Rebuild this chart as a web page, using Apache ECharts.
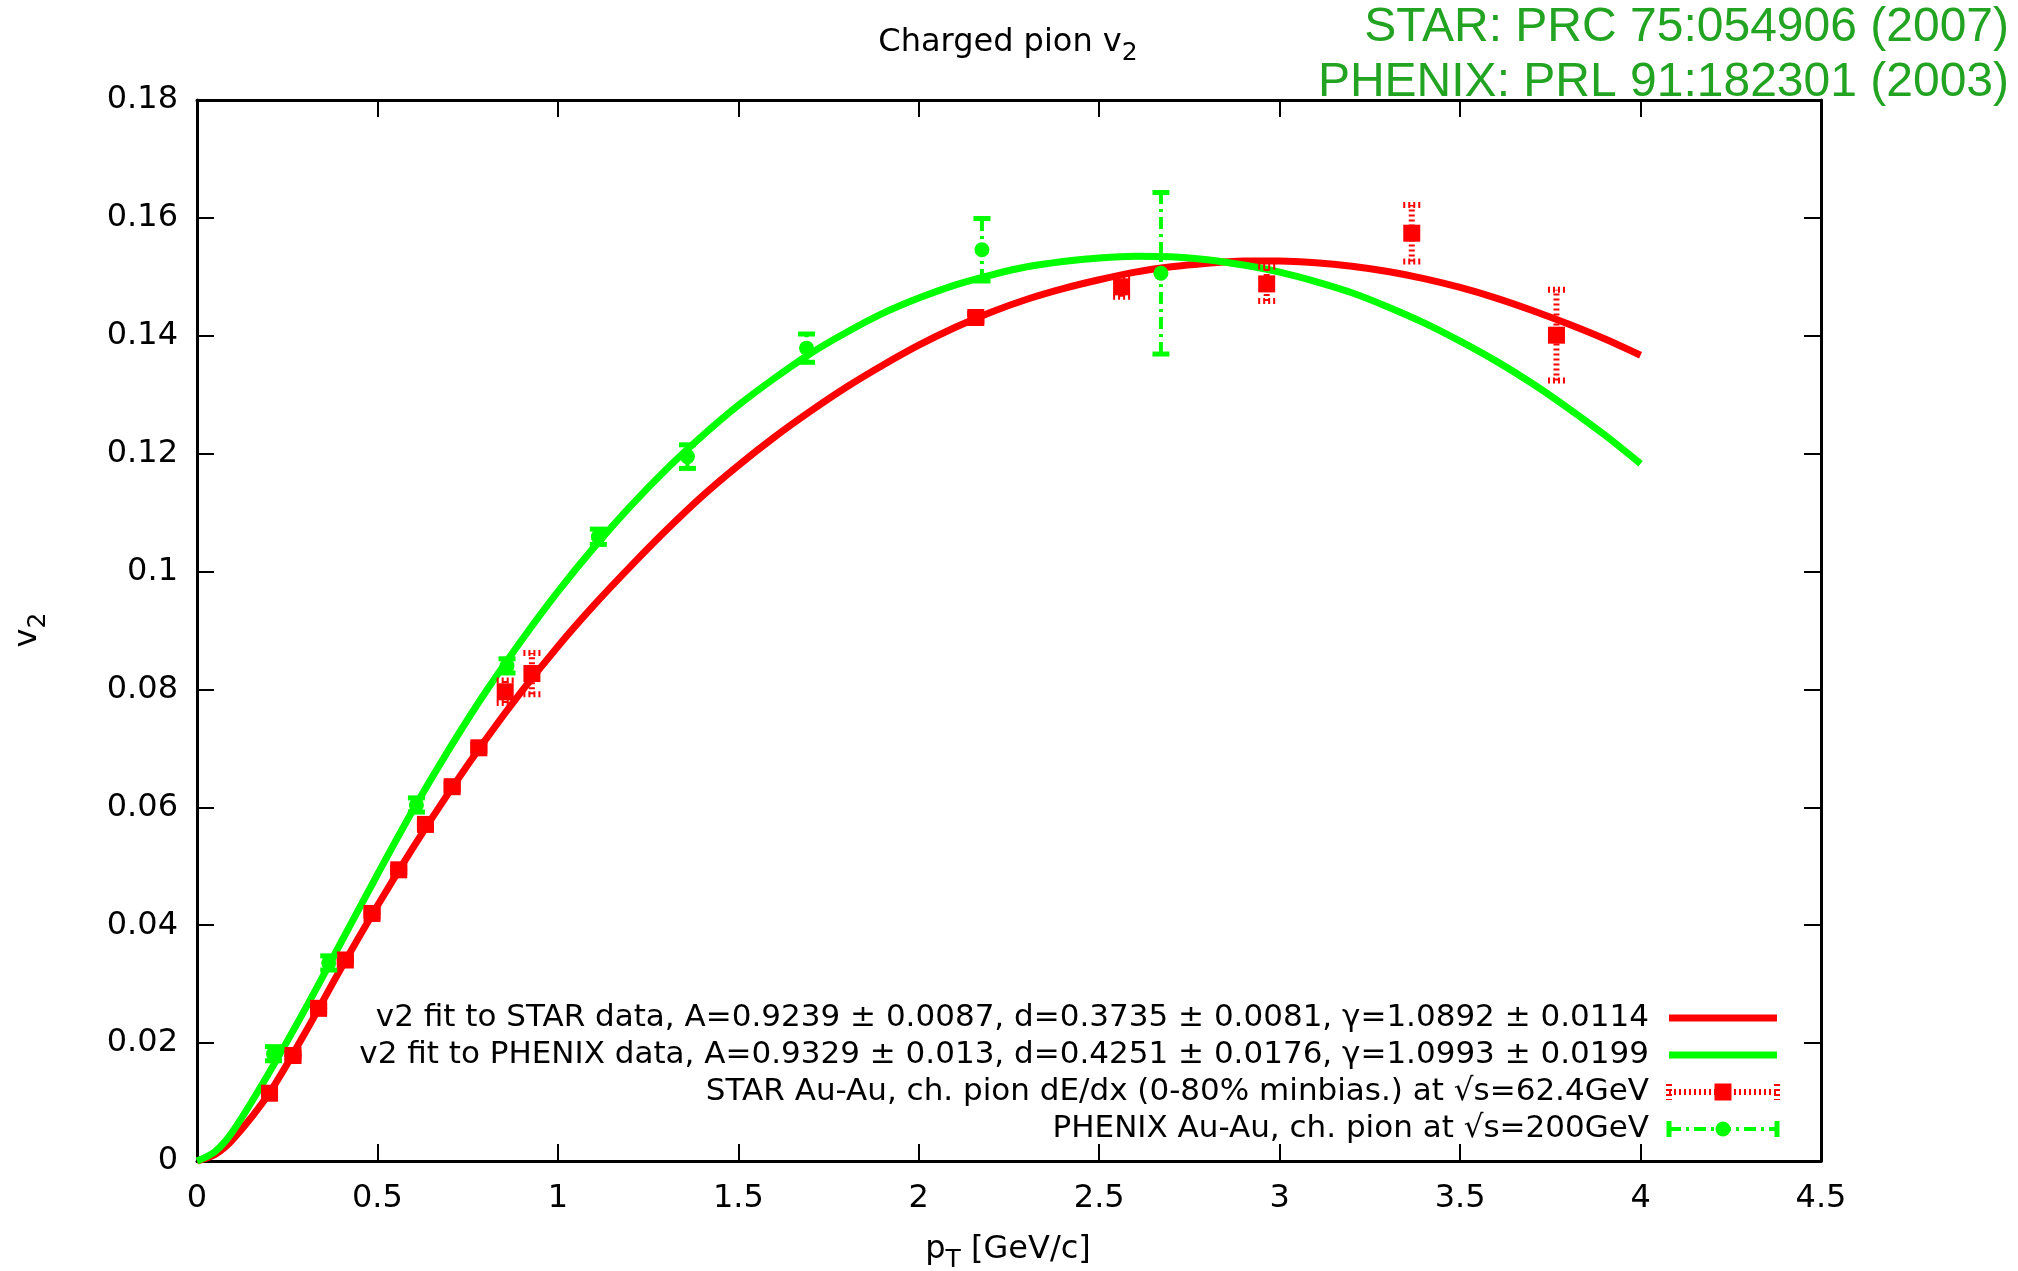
<!DOCTYPE html>
<html><head><meta charset="utf-8">
<script src="https://cdn.jsdelivr.net/npm/echarts@6/dist/echarts.min.js"></script>
<style>html,body{margin:0;padding:0;background:#fff}#c{width:2018px;height:1271px}</style>
</head><body><div id="c"></div><script>
// ---- data ----
const starPt  = [0.201, 0.266, 0.337, 0.411, 0.485, 0.559, 0.633, 0.707, 0.781, 0.854, 0.928, 2.158, 2.562, 2.964, 3.366, 3.767];
const starV2  = [0.0115, 0.0179, 0.0259, 0.0341, 0.0420, 0.0494, 0.0571, 0.0635, 0.0701, 0.0796, 0.0827, 0.1431, 0.1483, 0.1488, 0.1574, 0.1401];
const starErr = [0.0004, 0.0004, 0.0004, 0.0004, 0.0004, 0.0004, 0.0004, 0.0005, 0.0005, 0.0019, 0.0035, 0.0006, 0.0017, 0.0029, 0.0048, 0.0077];

const phxPt  = [0.212, 0.365, 0.608, 0.859, 1.112, 1.359, 1.689, 2.175, 2.671];
const phxV2  = [0.0182, 0.0336, 0.0604, 0.0840, 0.1059, 0.1195, 0.1379, 0.1546, 0.1506];
const phxErr = [0.0012, 0.0012, 0.0012, 0.0012, 0.0013, 0.0020, 0.0024, 0.0053, 0.0137];

// fit curves (about every 0.1 GeV/c)
const fitPt   = [0, 0.05, 0.1, 0.2, 0.3, 0.4, 0.5, 0.6, 0.7, 0.8, 0.9, 1.0, 1.1, 1.2, 1.3, 1.4, 1.5, 1.6, 1.7, 1.8, 1.9, 2.0,
                 2.1, 2.2, 2.3, 2.4, 2.5, 2.6, 2.7, 2.8, 2.9, 3.0, 3.1, 3.2, 3.3, 3.4, 3.5, 3.6, 3.7, 3.8, 3.9, 4.0];
const starFit = [0, 0.0011, 0.0037, 0.0115, 0.0218, 0.0328, 0.0433, 0.0533, 0.0627, 0.0715, 0.0797, 0.0873, 0.0943, 0.1008, 0.1070, 0.1128, 0.1180, 0.1228, 0.1272, 0.1313, 0.1350, 0.1384,
                 0.1414, 0.1440, 0.1462, 0.1480, 0.1495, 0.1508, 0.1517, 0.1523, 0.1527, 0.1527, 0.1524, 0.1518, 0.1509, 0.1497, 0.1482, 0.1464, 0.1443, 0.1420, 0.1395, 0.1367];
const phxFit  = [0, 0.0016, 0.0051, 0.0150, 0.0258, 0.0372, 0.0486, 0.0597, 0.0700, 0.0796, 0.0884, 0.0966, 0.1041, 0.1110, 0.1173, 0.1230, 0.1282, 0.1328, 0.1370, 0.1406, 0.1438, 0.1464,
                 0.1486, 0.1503, 0.1517, 0.1526, 0.1532, 0.1535, 0.1534, 0.1529, 0.1520, 0.1508, 0.1492, 0.1473, 0.1449, 0.1422, 0.1391, 0.1357, 0.1319, 0.1277, 0.1232, 0.1183];

const legendLabels = [
  'v2 fit to STAR data, A=0.9239 \u00b1 0.0087, d=0.3735 \u00b1 0.0081, \u03b3=1.0892 \u00b1 0.0114',
  'v2 fit to PHENIX data, A=0.9329 \u00b1 0.013, d=0.4251 \u00b1 0.0176, \u03b3=1.0993 \u00b1 0.0199',
  'STAR Au-Au, ch. pion dE/dx (0-80% minbias.) at \u221as=62.4GeV',
  'PHENIX Au-Au, ch. pion at \u221as=200GeV'
];
const refLines = ['STAR: PRC 75:054906 (2007)', 'PHENIX: PRL 91:182301 (2003)'];

// ---- styling ----
const FONT = 'DejaVu Sans';
const RED = '#ff0000', GREEN = '#00ff00', DKGREEN = '#22a322';

const chart = echarts.init(document.getElementById('c'), null, {renderer: 'canvas'});

function zip2(a, b) { return a.map((v, i) => [v, b[i]]); }
function errData(x, y, e) { return x.map((v, i) => [v, y[i] - e[i], y[i] + e[i]]); }

function errRender(color, lw, dash, capLw, capDash) {
  return function (params, api) {
    const x = api.value(0), lo = api.value(1), hi = api.value(2);
    const a = api.coord([x, lo]), b = api.coord([x, hi]);
    const hw = 8.5;
    return {type: 'group', children: [
      {type: 'line', shape: {x1: a[0], y1: a[1], x2: b[0], y2: b[1]}, style: {stroke: color, lineWidth: lw, lineDash: dash}},
      {type: 'line', shape: {x1: a[0] - hw, y1: a[1], x2: a[0] + hw, y2: a[1]}, style: {stroke: color, lineWidth: capLw, lineDash: capDash}},
      {type: 'line', shape: {x1: b[0] - hw, y1: b[1], x2: b[0] + hw, y2: b[1]}, style: {stroke: color, lineWidth: capLw, lineDash: capDash}}
    ]};
  };
}

const axisCommon = {
  axisLine: {show: true, onZero: false, lineStyle: {color: '#000', width: 3}},
  axisTick: {show: true, inside: true, length: 17, lineStyle: {color: '#000', width: 2}},
  splitLine: {show: false}
};

// legend graphics
const LX = 1649, SX0 = 1669, SX1 = 1777, LY0 = 1018, LDY = 37;
const legendGraphics = [];
legendLabels.forEach((t, i) => {
  legendGraphics.push({type: 'text', x: LX, y: LY0 + i * LDY, style: {text: t, font: '31px "' + FONT + '"', fill: '#000', align: 'right', verticalAlign: 'middle'}});
});
legendGraphics.push({type: 'line', shape: {x1: SX0, y1: LY0, x2: SX1, y2: LY0}, style: {stroke: RED, lineWidth: 7}});
legendGraphics.push({type: 'line', shape: {x1: SX0, y1: LY0 + LDY, x2: SX1, y2: LY0 + LDY}, style: {stroke: GREEN, lineWidth: 7}});
const y3 = LY0 + 2 * LDY, y4 = LY0 + 3 * LDY, mx = (SX0 + SX1) / 2;
legendGraphics.push({type: 'line', shape: {x1: SX0, y1: y3, x2: SX1, y2: y3}, style: {stroke: RED, lineWidth: 6, lineDash: [2, 3]}});
legendGraphics.push({type: 'line', shape: {x1: SX0, y1: y3 - 8, x2: SX0, y2: y3 + 8}, style: {stroke: RED, lineWidth: 6, lineDash: [2, 3]}});
legendGraphics.push({type: 'line', shape: {x1: SX1, y1: y3 - 8, x2: SX1, y2: y3 + 8}, style: {stroke: RED, lineWidth: 6, lineDash: [2, 3]}});
legendGraphics.push({type: 'rect', shape: {x: mx - 8.5, y: y3 - 8.5, width: 17, height: 17}, style: {fill: RED}});
legendGraphics.push({type: 'line', shape: {x1: SX0, y1: y4, x2: SX1, y2: y4}, style: {stroke: GREEN, lineWidth: 4, lineDash: [12, 5, 3, 5]}});
legendGraphics.push({type: 'line', shape: {x1: SX0, y1: y4 - 8, x2: SX0, y2: y4 + 8}, style: {stroke: GREEN, lineWidth: 5}});
legendGraphics.push({type: 'line', shape: {x1: SX1, y1: y4 - 8, x2: SX1, y2: y4 + 8}, style: {stroke: GREEN, lineWidth: 5}});
legendGraphics.push({type: 'circle', shape: {cx: mx, cy: y4, r: 7.5}, style: {fill: GREEN}});

const richMain = {m: {fontFamily: FONT, fontSize: 32, lineHeight: 46, verticalAlign: 'middle', color: '#000'},
                  s: {fontFamily: FONT, fontSize: 25, lineHeight: 22, verticalAlign: 'bottom', color: '#000'}};

const option = {
  backgroundColor: '#fff',
  animation: false,
  textStyle: {fontFamily: FONT},
  grid: {left: 197, right: 197, top: 100, bottom: 110, containLabel: false},
  xAxis: [
    Object.assign({type: 'value', min: 0, max: 4.5, interval: 0.5, position: 'bottom',
      axisLabel: {show: true, color: '#000', fontSize: 32, fontFamily: FONT, margin: 22}}, axisCommon),
    Object.assign({type: 'value', min: 0, max: 4.5, interval: 0.5, position: 'top',
      axisLabel: {show: false}}, axisCommon)
  ],
  yAxis: [
    Object.assign({type: 'value', min: 0, max: 0.18, interval: 0.02, position: 'left',
      axisLabel: {show: true, color: '#000', fontSize: 32, fontFamily: FONT, margin: 19}}, axisCommon),
    Object.assign({type: 'value', min: 0, max: 0.18, interval: 0.02, position: 'right',
      axisLabel: {show: false}}, axisCommon)
  ],
  graphic: [
    {type: 'text', x: 1008, y: 43, style: {text: '{m|Charged pion v}{s|2}', rich: richMain, align: 'center', verticalAlign: 'middle'}},
    {type: 'text', x: 1008, y: 1250, style: {text: '{m|p}{s|T}{m| [GeV/c]}', rich: richMain, align: 'center', verticalAlign: 'middle'}},
    {type: 'text', x: 28, y: 630, rotation: Math.PI / 2, style: {text: '{m|v}{s|2}', rich: richMain, align: 'center', verticalAlign: 'middle'}},
    {type: 'text', x: 2009, y: 28, style: {text: refLines[0], font: '48px "Liberation Sans"', fill: DKGREEN, align: 'right', verticalAlign: 'middle'}},
    {type: 'text', x: 2009, y: 83, style: {text: refLines[1], font: '48px "Liberation Sans"', fill: DKGREEN, align: 'right', verticalAlign: 'middle'}},
    {type: 'group', children: legendGraphics}
  ],
  series: [
    {name: 'STAR fit', type: 'line', data: zip2(fitPt, starFit), smooth: 0.3, showSymbol: false,
      lineStyle: {color: RED, width: 7}, z: 2},
    {name: 'PHENIX fit', type: 'line', data: zip2(fitPt, phxFit), smooth: 0.3, showSymbol: false,
      lineStyle: {color: GREEN, width: 7}, z: 2},
    {name: 'STAR err', type: 'custom', data: errData(starPt, starV2, starErr), encode: {x: 0, y: [1, 2]},
      renderItem: errRender(RED, 6, [2, 3], 6, [2, 3]), z: 3},
    {name: 'STAR', type: 'scatter', data: zip2(starPt, starV2), symbol: 'rect', symbolSize: 17,
      itemStyle: {color: RED, opacity: 1}, z: 4},
    {name: 'PHENIX err', type: 'custom', data: errData(phxPt, phxV2, phxErr), encode: {x: 0, y: [1, 2]},
      renderItem: errRender(GREEN, 4, [12, 5, 3, 5], 5, null), z: 5},
    {name: 'PHENIX', type: 'scatter', data: zip2(phxPt, phxV2), symbol: 'circle', symbolSize: 15,
      itemStyle: {color: GREEN, opacity: 1}, z: 6}
  ]
};
chart.setOption(option);
</script></body></html>
